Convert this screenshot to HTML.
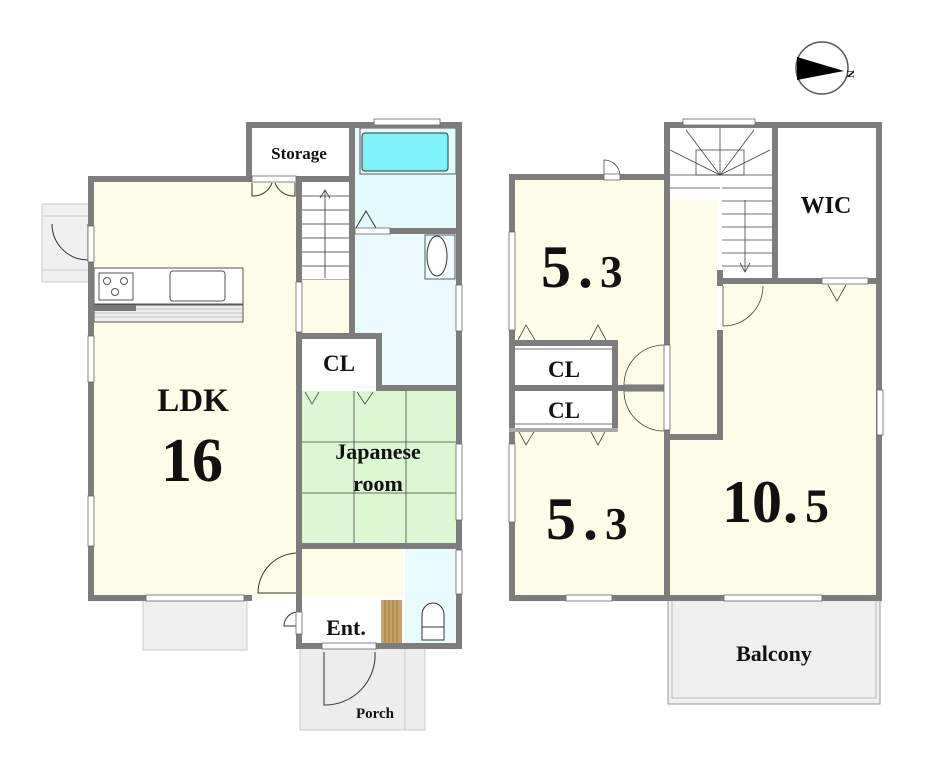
<!DOCTYPE html>
<html><head><meta charset="utf-8"><style>
html,body{margin:0;padding:0;background:#fff;}
svg{display:block;}
text{font-family:"Liberation Serif",serif;font-weight:bold;fill:#111;}
</style></head><body>
<svg width="926" height="765" viewBox="0 0 926 765" xmlns="http://www.w3.org/2000/svg">
<!-- compass -->
<circle cx="822" cy="68" r="26" fill="#fff" stroke="#555" stroke-width="1.5"/>
<polygon points="797,57 844,71 797,80" fill="#000"/>
<text x="849" y="72" font-size="11" transform="rotate(90 849 70)">N</text>

<!-- LEFT BUILDING fills -->
<rect x="42" y="204" width="48" height="78" fill="#f0f0f0" stroke="#ccc"/>
<line x1="42" y1="216" x2="88" y2="216" stroke="#ccc"/><line x1="42" y1="270" x2="88" y2="270" stroke="#ccc"/>
<path d="M52 224 A36 36 0 0 0 88 260 L88 224" fill="none" stroke="#333" stroke-width="1"/>
<rect x="143" y="600" width="104" height="50" fill="#efefef" stroke="#ccc"/>
<rect x="300" y="647" width="125" height="83" fill="#ededed" stroke="#ccc"/>
<line x1="405" y1="647" x2="405" y2="730" stroke="#ccc"/>
<path d="M324 652 L324 705 A50 50 0 0 0 375 652" fill="none" stroke="#333" stroke-width="1"/>

<rect x="92" y="180" width="206" height="418" fill="#fdfde8"/>
<rect x="250" y="126" width="101" height="52" fill="#fff"/>
<rect x="353" y="126" width="105" height="104" fill="#e4fbfd"/>
<rect x="362" y="133" width="86" height="38" rx="3" fill="#7ef3fa" stroke="#333"/>
<rect x="360" y="128" width="96" height="46" fill="none" stroke="#333" stroke-width="0.8"/>
<rect x="353" y="232" width="105" height="156" fill="#ecfcfe"/>
<ellipse cx="437" cy="256" rx="10" ry="20" fill="#fff" stroke="#333"/>
<rect x="425" y="235" width="30" height="44" fill="none" stroke="#333" stroke-width="0.8"/>
<path d="M356 228 L366 211 L376 228" fill="none" stroke="#333"/>
<rect x="302" y="182" width="47" height="98" fill="#fff"/>
<g stroke="#333" stroke-width="0.8">
<line x1="302" y1="196" x2="349" y2="196"/><line x1="302" y1="210" x2="349" y2="210"/><line x1="302" y1="224" x2="349" y2="224"/><line x1="302" y1="238" x2="349" y2="238"/><line x1="302" y1="252" x2="349" y2="252"/><line x1="302" y1="266" x2="349" y2="266"/><line x1="302" y1="280" x2="349" y2="280"/>
<line x1="325" y1="190" x2="325" y2="278"/><polyline points="320,198 325,190 330,198" fill="none"/>
</g>
<rect x="302" y="280" width="47" height="55" fill="#fdfde8"/>
<rect x="302" y="338" width="74" height="48" fill="#fff"/>
<rect x="302" y="391" width="154" height="153" fill="#dcf8d2"/>
<g stroke="#444" stroke-width="0.8">
<line x1="354" y1="391" x2="354" y2="544"/><line x1="406" y1="391" x2="406" y2="544"/>
<line x1="302" y1="442" x2="456" y2="442"/><line x1="302" y1="493" x2="456" y2="493"/>
<polyline points="305,392 312,404 319,392" fill="none"/><polyline points="357,392 365,404 373,392" fill="none"/>
</g>
<rect x="302" y="549" width="101" height="47" fill="#fdfde8"/>
<rect x="405" y="549" width="51" height="94" fill="#e8fbfd"/>
<path d="M422 640 L422 615 A11 12 0 0 1 444 615 L444 640 Z" fill="#fff" stroke="#333"/>
<line x1="422" y1="627" x2="444" y2="627" stroke="#333"/>
<rect x="302" y="598" width="101" height="45" fill="#fff"/>
<rect x="381" y="600" width="21" height="43" fill="#c7a467"/>
<g stroke="#8a6a30" stroke-width="0.7"><line x1="385" y1="600" x2="385" y2="643"/><line x1="389" y1="600" x2="389" y2="643"/><line x1="393" y1="600" x2="393" y2="643"/><line x1="397" y1="600" x2="397" y2="643"/></g>
<!-- kitchen -->
<rect x="94" y="268" width="149" height="36" fill="#fff" stroke="#555"/>
<rect x="99" y="273" width="34" height="27" fill="#fff" stroke="#555"/>
<circle cx="107" cy="281" r="3.5" fill="none" stroke="#555"/><circle cx="124" cy="281" r="3.5" fill="none" stroke="#555"/><circle cx="115" cy="292" r="3.5" fill="none" stroke="#555"/>
<rect x="170" y="271" width="55" height="30" rx="3" fill="#fff" stroke="#555"/>
<rect x="94" y="305" width="149" height="17" fill="#eee" stroke="#555"/>
<rect x="94" y="305" width="42" height="6" fill="#777"/>
<g stroke="#999" stroke-width="0.6"><line x1="136" y1="309" x2="243" y2="309"/><line x1="94" y1="313" x2="243" y2="313"/><line x1="94" y1="317" x2="243" y2="317"/></g>
<!-- doors left -->
<path d="M252 183 L252 196 A20 20 0 0 0 272 183 M295 183 L295 196 A20 20 0 0 1 275 183" fill="none" stroke="#333"/>
<path d="M298 553 A40 40 0 0 0 258 593 L298 593" fill="none" stroke="#333"/>
<path d="M298 612 A14 14 0 0 0 284 626 L298 626" fill="none" stroke="#333"/>

<!-- LEFT walls -->
<g fill="#7d7d7d">
<rect x="88" y="176" width="6" height="425"/>
<rect x="88" y="176" width="162" height="6"/>
<rect x="246" y="122" width="6" height="60"/>
<rect x="246" y="122" width="216" height="6"/>
<rect x="349" y="122" width="6" height="60"/>
<rect x="296" y="176" width="59" height="6"/>
<rect x="349" y="176" width="6" height="160"/>
<rect x="456" y="122" width="6" height="527"/>
<rect x="390" y="228" width="66" height="6"/>
<rect x="296" y="182" width="6" height="415"/>
<rect x="296" y="333" width="86" height="6"/>
<rect x="376" y="333" width="6" height="57"/>
<rect x="376" y="385" width="86" height="6"/>
<rect x="296" y="543" width="166" height="6"/>
<rect x="88" y="595" width="164" height="6"/>
<rect x="296" y="597" width="6" height="52"/>
<rect x="296" y="643" width="166" height="6"/>
</g>
<!-- windows left -->
<g fill="#fff" stroke="#666" stroke-width="0.8">
<rect x="374" y="119" width="66" height="6"/>
<rect x="146" y="595" width="98" height="6"/>
<rect x="88" y="336" width="6" height="46"/><rect x="88" y="496" width="6" height="50"/>
<rect x="88" y="226" width="6" height="36"/>
<rect x="456" y="285" width="6" height="46"/><rect x="456" y="444" width="6" height="76"/><rect x="456" y="550" width="6" height="44"/>
<rect x="296" y="612" width="6" height="22"/>
<rect x="322" y="643" width="54" height="6"/>
<rect x="252" y="176" width="44" height="6"/>
<rect x="355" y="228" width="35" height="6"/>
<rect x="296" y="282" width="6" height="50"/>
</g>

<!-- RIGHT BUILDING -->
<rect x="668" y="600" width="212" height="104" fill="#efefef" stroke="#999"/>
<rect x="672" y="600" width="204" height="98" fill="none" stroke="#bbb"/>
<rect x="515" y="180" width="150" height="416" fill="#fdfde8"/>
<rect x="670" y="128" width="102" height="152" fill="#fff"/>
<g stroke="#444" stroke-width="0.8" fill="none">
<line x1="670" y1="175" x2="720" y2="175"/><line x1="670" y1="188" x2="720" y2="188"/>
<line x1="722" y1="175" x2="772" y2="175"/><line x1="722" y1="188" x2="772" y2="188"/><line x1="722" y1="201" x2="772" y2="201"/><line x1="722" y1="214" x2="772" y2="214"/><line x1="722" y1="227" x2="772" y2="227"/><line x1="722" y1="240" x2="772" y2="240"/><line x1="722" y1="253" x2="772" y2="253"/><line x1="722" y1="266" x2="772" y2="266"/>
<line x1="720" y1="128" x2="720" y2="175"/><line x1="720" y1="175" x2="686" y2="130"/><line x1="720" y1="175" x2="754" y2="130"/><line x1="720" y1="175" x2="670" y2="150"/><line x1="720" y1="175" x2="770" y2="150"/>
<rect x="696" y="150" width="48" height="25"/>
<line x1="745" y1="200" x2="745" y2="272"/><polyline points="740,263 745,272 750,263"/>
</g>
<rect x="778" y="128" width="98" height="150" fill="#fff"/>
<rect x="670" y="200" width="47" height="234" fill="#fdfde8"/>
<rect x="723" y="284" width="153" height="312" fill="#fdfde8"/>
<rect x="670" y="440" width="206" height="156" fill="#fdfde8"/>
<rect x="515" y="345" width="97" height="40" fill="#fff"/>
<rect x="515" y="391" width="97" height="37" fill="#fff"/>
<g stroke="#444" fill="none" stroke-width="0.8">
<line x1="515" y1="349" x2="612" y2="349"/><line x1="515" y1="424" x2="612" y2="424"/>
<polyline points="518,340 526,325 535,340"/><polyline points="590,340 598,325 606,340"/>
<polyline points="518,430 526,445 535,430"/><polyline points="590,430 598,445 606,430"/>
<path d="M664 345 A40 40 0 0 0 624 385 L664 385 M664 431 A40 40 0 0 1 624 391 L664 391"/>
<path d="M723 286 L723 326 A40 40 0 0 0 763 286"/>
<polyline points="828,285 837,301 846,285"/>
<path d="M604 178 L604 160 A16 16 0 0 1 620 176"/>
</g>
<g fill="#7d7d7d">
<rect x="509" y="174" width="6" height="427"/>
<rect x="509" y="174" width="161" height="6"/>
<rect x="664" y="122" width="218" height="6"/>
<rect x="664" y="122" width="6" height="223"/>
<rect x="664" y="430" width="6" height="171"/>
<rect x="717" y="330" width="6" height="110"/>
<rect x="717" y="270" width="6" height="16"/>
<rect x="772" y="122" width="6" height="162"/>
<rect x="717" y="278" width="165" height="6"/>
<rect x="876" y="122" width="6" height="479"/>
<rect x="509" y="595" width="373" height="6"/>
<rect x="664" y="434" width="59" height="6"/>
<rect x="509" y="340" width="109" height="6"/>
<rect x="612" y="340" width="6" height="90"/>
<rect x="509" y="385" width="161" height="6"/>
<rect x="509" y="428" width="109" height="4" fill="#aaa"/>
</g>
<g fill="#fff" stroke="#666" stroke-width="0.8">
<rect x="683" y="119" width="72" height="6"/>
<rect x="509" y="232" width="6" height="98"/><rect x="509" y="444" width="6" height="78"/>
<rect x="566" y="595" width="46" height="6"/><rect x="724" y="595" width="98" height="6"/>
<rect x="877" y="390" width="6" height="45"/>
<rect x="604" y="174" width="16" height="6"/>
<rect x="822" y="278" width="46" height="6"/>
<rect x="664" y="345" width="6" height="85"/>
</g>

<!-- TEXT -->
<text x="299" y="159" font-size="17" text-anchor="middle">Storage</text>
<text x="193" y="411" font-size="33" text-anchor="middle">LDK</text>
<text x="192" y="481" font-size="62" text-anchor="middle">16</text>
<text x="339" y="371" font-size="23" text-anchor="middle">CL</text>
<text x="378" y="459" font-size="22" text-anchor="middle">Japanese</text>
<text x="378" y="491" font-size="22" text-anchor="middle">room</text>
<text x="346" y="635" font-size="22" text-anchor="middle">Ent.</text>
<text x="375" y="718" font-size="15" text-anchor="middle">Porch</text>
<text x="541" y="287" font-size="60">5</text><text x="578" y="287" font-size="60">.</text><text x="600" y="287" font-size="45">3</text>
<text x="564" y="377" font-size="23" text-anchor="middle">CL</text>
<text x="564" y="418" font-size="23" text-anchor="middle">CL</text>
<text x="546" y="539" font-size="60">5</text><text x="583" y="539" font-size="60">.</text><text x="605" y="539" font-size="45">3</text>
<text x="826" y="213" font-size="24" text-anchor="middle">WIC</text>
<text x="722" y="522" font-size="60">10</text><text x="783" y="522" font-size="60">.</text><text x="805" y="522" font-size="48">5</text>
<text x="774" y="661" font-size="22" text-anchor="middle">Balcony</text>
</svg>
</body></html>
